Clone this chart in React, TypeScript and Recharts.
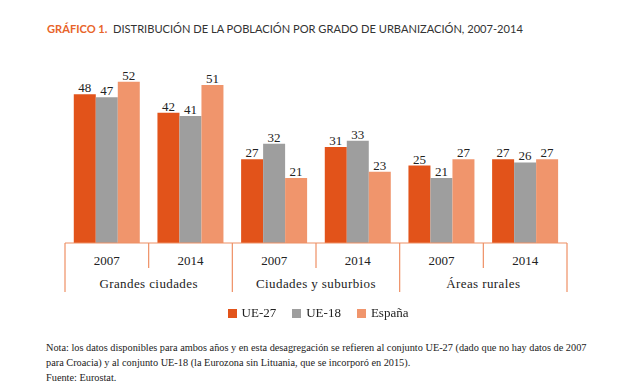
import { BarChart, Bar, XAxis, YAxis, Legend, LabelList } from 'recharts';

const years = ['2007', '2014', '2007', '2014', '2007', '2014'];
const groups = ['Grandes ciudades', 'Grandes ciudades', 'Ciudades y suburbios', 'Ciudades y suburbios', 'Áreas rurales', 'Áreas rurales'];
const ue27 = [48, 42, 27, 31, 25, 27];
const ue18 = [47, 41, 32, 33, 21, 26];
const espana = [52, 51, 21, 23, 27, 27];

const series = [
  { key: 'ue27', name: 'UE-27', color: '#E2531A' },
  { key: 'ue18', name: 'UE-18', color: '#9E9E9E' },
  { key: 'espana', name: 'España', color: '#F0956C' },
];

const data = years.map((y, i) => ({ year: y, group: groups[i], ue27: ue27[i], ue18: ue18[i], espana: espana[i] }));

const AXIS = '#EE8F64';
const SERIF = '"Liberation Serif", "DejaVu Serif", serif';

const YearTick = ({ x, y, payload, index }: any) => {
  const half = payload?.offset ?? 41.8;
  const first = index === 0 || groups[index] !== groups[index - 1];
  const last = index === groups.length - 1;
  return (
    <g>
      <line x1={x - half} x2={x - half} y1={y} y2={y + (first ? 49 : 25)} stroke={AXIS} strokeWidth={1.2} />
      {last && <line x1={x + half} x2={x + half} y1={y} y2={y + 49} stroke={AXIS} strokeWidth={1.2} />}
      <text x={x} y={y + 22} textAnchor="middle" fontFamily={SERIF} fontSize={13} fill="#222">
        {payload.value}
      </text>
      {first && (
        <text x={x + half} y={y + 45} textAnchor="middle" fontFamily={SERIF} fontSize={13} fill="#222" letterSpacing={0.4}>
          {groups[index]}
        </text>
      )}
    </g>
  );
};

const LegendContent = () => (
  <div style={{ display: 'flex', justifyContent: 'center', gap: 16, fontFamily: SERIF, fontSize: 13, color: '#222', marginLeft: -4 }}>
    {series.map((s) => (
      <span key={s.key} style={{ display: 'flex', alignItems: 'center' }}>
        <span style={{ width: 9, height: 9, background: s.color, display: 'inline-block', marginRight: 5 }} />
        {s.name}
      </span>
    ))}
  </div>
);

export default function App() {
  return (
    <div style={{ position: 'fixed', top: 0, left: 0, width: 640, height: 390, background: '#fff' }}>
      <div style={{ position: 'absolute', left: 47, top: 22, fontFamily: 'Lato, "Open Sans", sans-serif', fontSize: 11.1, color: '#333', whiteSpace: 'nowrap' }}>
        <span style={{ color: '#E8642A', fontWeight: 700 }}>GRÁFICO 1.</span>&nbsp; DISTRIBUCIÓN DE LA POBLACIÓN POR GRADO DE URBANIZACIÓN, 2007-2014
      </div>
      <div style={{ position: 'absolute', left: 0, top: 0 }}>
        <BarChart
          width={640}
          height={390}
          data={data}
          margin={{ top: 57, right: 73, left: 65, bottom: 87 }}
          barCategoryGap="10.5%"
          barGap={0}
        >
          <XAxis
            dataKey="year"
            axisLine={{ stroke: AXIS, strokeWidth: 1.2 }}
            tickLine={false}
            tickSize={0}
            tickMargin={0}
            height={60}
            interval={0}
            tick={<YearTick />}
          />
          <YAxis hide domain={[0, 60]} />
          <Legend
            layout="horizontal"
            verticalAlign="middle"
            align="center"
            content={<LegendContent />}
            wrapperStyle={{ top: 305, left: 0, width: 640 }}
          />
          {series.map((s) => (
            <Bar key={s.key} dataKey={s.key} name={s.name} fill={s.color} isAnimationActive={false}>
              <LabelList dataKey={s.key} position="top" offset={2} fontFamily={SERIF} fontSize={13} fill="#222" />
            </Bar>
          ))}
        </BarChart>
      </div>
      <div style={{ position: 'absolute', left: 46, top: 340, fontFamily: SERIF, fontSize: 10.3, color: '#222', lineHeight: '15px', whiteSpace: 'nowrap' }}>
        Nota: los datos disponibles para ambos años y en esta desagregación se refieren al conjunto UE-27 (dado que no hay datos de 2007
        <br />
        para Croacia) y al conjunto UE-18 (la Eurozona sin Lituania, que se incorporó en 2015).
        <div style={{ marginTop: 0 }}>Fuente: Eurostat.</div>
      </div>
    </div>
  );
}
